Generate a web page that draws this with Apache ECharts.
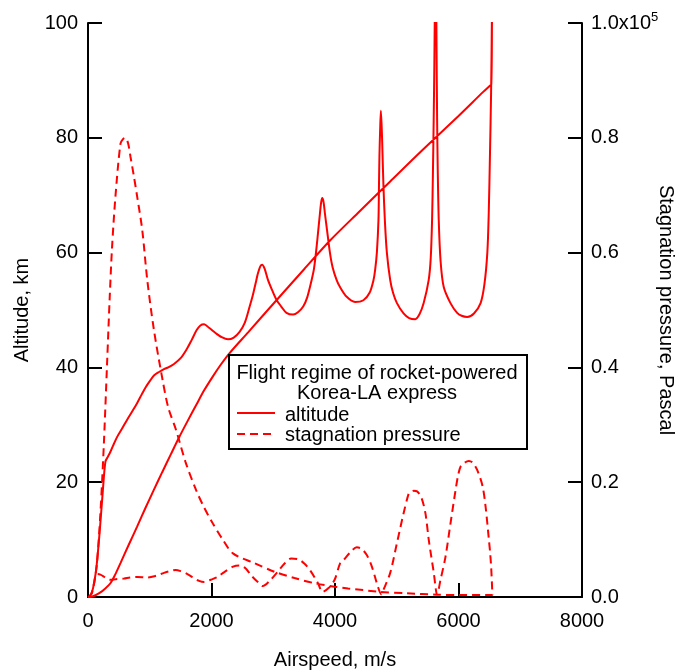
<!DOCTYPE html>
<html>
<head>
<meta charset="utf-8">
<script src="https://cdn.jsdelivr.net/npm/echarts@6/dist/echarts.min.js"></script>
<style>
html, body { margin: 0; padding: 0; background: #fff; }
#chart { width: 675px; height: 671px; }
</style>
</head>
<body>
<div id="chart"></div>
<script>
// altitude (km) vs airspeed (m/s), in flight order: boost then skip-glide descent
var altSpeed = [0, 38, 120, 201, 280, 363, 440, 526, 660, 797, 930, 1068, 1200, 1339, 1470, 1610, 1750, 1881, 2020, 2152, 2293, 2600, 3052, 3500, 3919, 4400, 4894, 5400, 6000, 6400, 6500, 6531, 6542, 6550,
    6546, 6540, 6528, 6510, 6490, 6467, 6420, 6358, 6250, 6141, 6050, 5978, 5870, 5761, 5710, 5680, 5663, 5654, 5645, 5638, 5628,
    5620, 5615, 5608, 5598, 5586, 5572, 5550, 5517, 5436, 5370, 5300, 5200, 5110, 5003, 4940, 4894, 4840, 4808, 4785, 4770, 4759, 4743,
    4730, 4720, 4712, 4704, 4678, 4650, 4623, 4560, 4460, 4325, 4190, 4081, 4027, 3960, 3919, 3870, 3837, 3815, 3794,
    3775, 3756, 3730, 3702, 3660, 3621, 3550, 3485, 3400, 3322, 3214, 3130, 3051, 2980, 2916, 2860, 2820, 2790, 2750, 2726, 2670, 2618,
    2540, 2455, 2360, 2266, 2160, 2076, 1960, 1880, 1820, 1760, 1680, 1600, 1500, 1393, 1300, 1230, 1150, 1068, 1000, 932, 870, 797,
    720, 634, 550, 472, 420, 363, 320, 282, 240, 190, 140, 100, 60, 20, 0];
var altKm = [0, 0, 0.3, 0.8, 1.5, 2.4, 3.9, 5.9, 9.1, 12.3, 15.5, 18.7, 21.7, 24.8, 27.7, 30.6, 33.4, 36.0, 38.4, 40.5, 42.5, 46.2, 51.7, 57.1, 62.1, 67.2, 72.4, 77.7, 83.8, 88.0, 89.0, 89.3, 100, 115,
    115, 100, 88, 77.3, 67, 60, 54.5, 51.2, 49.4, 48.8, 49.0, 49.5, 51.2, 54, 58.5, 65.7, 75, 83, 95, 105, 115,
    105, 100, 92, 83, 74, 65.7, 59, 55.2, 51.2, 49.3, 48.4, 48.6, 49.4, 51.2, 53, 55.2, 60, 65.5, 71.5, 77, 81, 84.7,
    81, 77, 71.5, 65.7, 60, 57, 55.2, 53, 51.7, 51.4, 52.3, 54, 55.2, 57.5, 59.9, 64, 66.8, 68.8, 69.5,
    68.7, 66.8, 64, 61, 57.2, 55.2, 52.2, 50.6, 49.6, 49.2, 49.5, 50.6, 51.8, 53.5, 55.2, 57.2, 57.9, 57.6, 56.3, 55.2, 52.6, 50.6,
    47.8, 46.2, 45.2, 44.9, 45.3, 45.9, 46.9, 47.5, 47.3, 46.5, 44.8, 43.2, 41.6, 40.6, 40, 39.7, 39.2, 38.6, 37.6, 36.5, 35.3, 33.8,
    32.4, 30.9, 29.3, 27.9, 26.7, 25.3, 24.4, 23.6, 18.5, 11.5, 5.5, 2.5, 0.7, 0.1, 0];

// stagnation pressure (Pa) vs airspeed (m/s), same flight order
var presSpeed = [0, 30, 65, 110, 146, 201, 255, 309, 352, 390, 444, 526, 570, 607, 650, 688, 740, 797, 878, 960, 1068, 1208, 1300, 1426, 1580, 1751, 1880, 2022, 2170, 2347, 2694, 3019, 3344, 3669, 3994, 4211, 4732, 5165, 5654, 5980, 6549,
    6530, 6510, 6493, 6439, 6390, 6304, 6230, 6168, 6100, 6033, 5990, 5952, 5870, 5789, 5707, 5654,
    5600, 5518, 5464, 5400, 5330, 5274, 5220, 5193, 5111, 5003, 4894, 4786, 4750,
    4678, 4597, 4515, 4430, 4352, 4250, 4136, 4081, 3994, 3900, 3800,
    3720, 3600, 3507, 3400, 3290, 3180, 3073, 2950, 2830, 2750, 2640, 2550, 2455, 2350, 2200, 2100, 1989, 1880,
    1800, 1700, 1610, 1500, 1420, 1320, 1230, 1100, 960, 800, 680, 580, 450, 363, 300, 250, 200, 150, 120, 100, 80, 50, 20, 0];
var presPa = [0, 200, 700, 3000, 6000, 14600, 26200, 40700, 52300, 61000, 69700, 79000, 79800, 80000, 79000, 76700, 73500, 69700, 64000, 55200, 46500, 37800, 33000, 29100, 23500, 18600, 15600, 12800, 10200, 7600, 5900, 4400, 3300, 2400, 1800, 1500, 900, 640, 400, 350, 350,
    5000, 8000, 9900, 15700, 19300, 22100, 23400, 23700, 23400, 22700, 21000, 18600, 12800, 7000, 2900, 400,
    4200, 10000, 14600, 17300, 18400, 18500, 18200, 18000, 14600, 9400, 4200, 1300, 500,
    2400, 5300, 7300, 8400, 8660, 7800, 6400, 5800, 3000, 1600, 900,
    2500, 4600, 5800, 6600, 6700, 5800, 4400, 2900, 1900, 2600, 3800, 5000, 5500, 5300, 4300, 3500, 3000, 2600,
    2800, 3400, 4000, 4500, 4700, 4500, 4200, 3700, 3400, 3500, 3400, 3200, 3100, 3000, 3200, 3600, 3900, 4000, 3600, 2600, 1500, 500, 100, 0];

var xTicks = [0, 2000, 4000, 6000, 8000];

var altData = altSpeed.map(function (v, i) { return [v, altKm[i]]; });
var presData = presSpeed.map(function (v, i) { return [v, presPa[i]]; });

var font = 'Liberation Sans';
var fs = 20;
var red = '#ff0000';
var axisLineStyle = { color: '#000', width: 2 };

var myChart = echarts.init(document.getElementById('chart'));
var option = {
    backgroundColor: '#fff',
    animation: false,
    textStyle: { fontFamily: font },
    grid: { left: 88, right: 93, top: 23, bottom: 74, containLabel: false, outerBoundsMode: 'none' },
    xAxis: {
        type: 'value',
        min: xTicks[0],
        max: xTicks[xTicks.length - 1],
        interval: 2000,
        name: 'Airspeed, m/s',
        nameLocation: 'middle',
        nameGap: 53,
        nameMoveOverlap: false,
        nameTextStyle: { color: '#000', fontSize: fs, fontFamily: font },
        axisLine: { lineStyle: axisLineStyle },
        axisTick: { inside: true, length: 14, lineStyle: axisLineStyle },
        axisLabel: {
            color: '#000', fontSize: fs, margin: 14, fontFamily: font,
            formatter: function (v) { return String(v); }
        },
        splitLine: { show: false }
    },
    yAxis: [{
        type: 'value',
        min: 0,
        max: 100,
        interval: 20,
        position: 'left',
        name: 'Altitude, km',
        nameLocation: 'middle',
        nameGap: 56,
        nameMoveOverlap: false,
        nameTextStyle: { color: '#000', fontSize: fs, fontFamily: font },
        axisLine: { show: true, lineStyle: axisLineStyle },
        axisTick: { show: true, inside: true, length: 14, lineStyle: axisLineStyle },
        axisLabel: { color: '#000', fontSize: fs, margin: 10, fontFamily: font },
        splitLine: { show: false }
    }, {
        type: 'value',
        min: 0,
        max: 100000,
        interval: 20000,
        position: 'right',
        name: 'Stagnation pressure, Pascal',
        nameLocation: 'middle',
        nameRotate: -90,
        nameGap: 74,
        nameMoveOverlap: false,
        nameTextStyle: { color: '#000', fontSize: fs, fontFamily: font },
        axisLine: { show: true, lineStyle: axisLineStyle },
        axisTick: { show: true, inside: true, length: 14, lineStyle: axisLineStyle },
        axisLabel: {
            color: '#000',
            fontSize: fs,
            margin: 9,
            fontFamily: font,
            formatter: function (v) {
                if (v === 100000) return '{a|1.0x10}{b|5}';
                return (v / 100000).toFixed(1);
            },
            rich: {
                a: { fontSize: fs, color: '#000', fontFamily: font },
                b: { fontSize: 13, color: '#000', fontFamily: font, padding: [0, 0, 12, 0] }
            }
        },
        splitLine: { show: false }
    }],
    graphic: [{
        type: 'rect',
        z: 10,
        shape: { x: 229, y: 355, width: 298, height: 94 },
        style: { fill: '#fff', stroke: '#000', lineWidth: 2 }
    }, {
        type: 'text',
        z: 20,
        x: 377,
        y: 363,
        style: {
            text: 'Flight regime of rocket-powered\nKorea-LA express',
            align: 'center',
            fill: '#000',
            font: fs + 'px "Liberation Sans"',
            lineHeight: 20
        }
    }, {
        type: 'line',
        z: 20,
        shape: { x1: 237, y1: 413, x2: 275, y2: 413 },
        style: { stroke: red, lineWidth: 2 }
    }, {
        type: 'text',
        z: 20,
        x: 285,
        y: 415,
        style: { text: 'altitude', verticalAlign: 'middle', fill: '#000', font: fs + 'px "Liberation Sans"' }
    }, {
        type: 'line',
        z: 20,
        shape: { x1: 237, y1: 434, x2: 275, y2: 434 },
        style: { stroke: red, lineWidth: 2, lineDash: [8, 5] }
    }, {
        type: 'text',
        z: 20,
        x: 285,
        y: 435,
        style: { text: 'stagnation pressure', verticalAlign: 'middle', fill: '#000', font: fs + 'px "Liberation Sans"' }
    }],
    series: [{
        name: 'altitude',
        type: 'line',
        yAxisIndex: 0,
        data: altData,
        symbol: 'none',
        smooth: 0.3,
        clip: true,
        lineStyle: { color: red, width: 2 },
        itemStyle: { color: red }
    }, {
        name: 'stagnation pressure',
        type: 'line',
        yAxisIndex: 1,
        data: presData,
        symbol: 'none',
        smooth: 0.3,
        clip: true,
        lineStyle: { color: red, width: 2, type: [8, 5] },
        itemStyle: { color: red }
    }]
};
myChart.setOption(option);
</script>
</body>
</html>
